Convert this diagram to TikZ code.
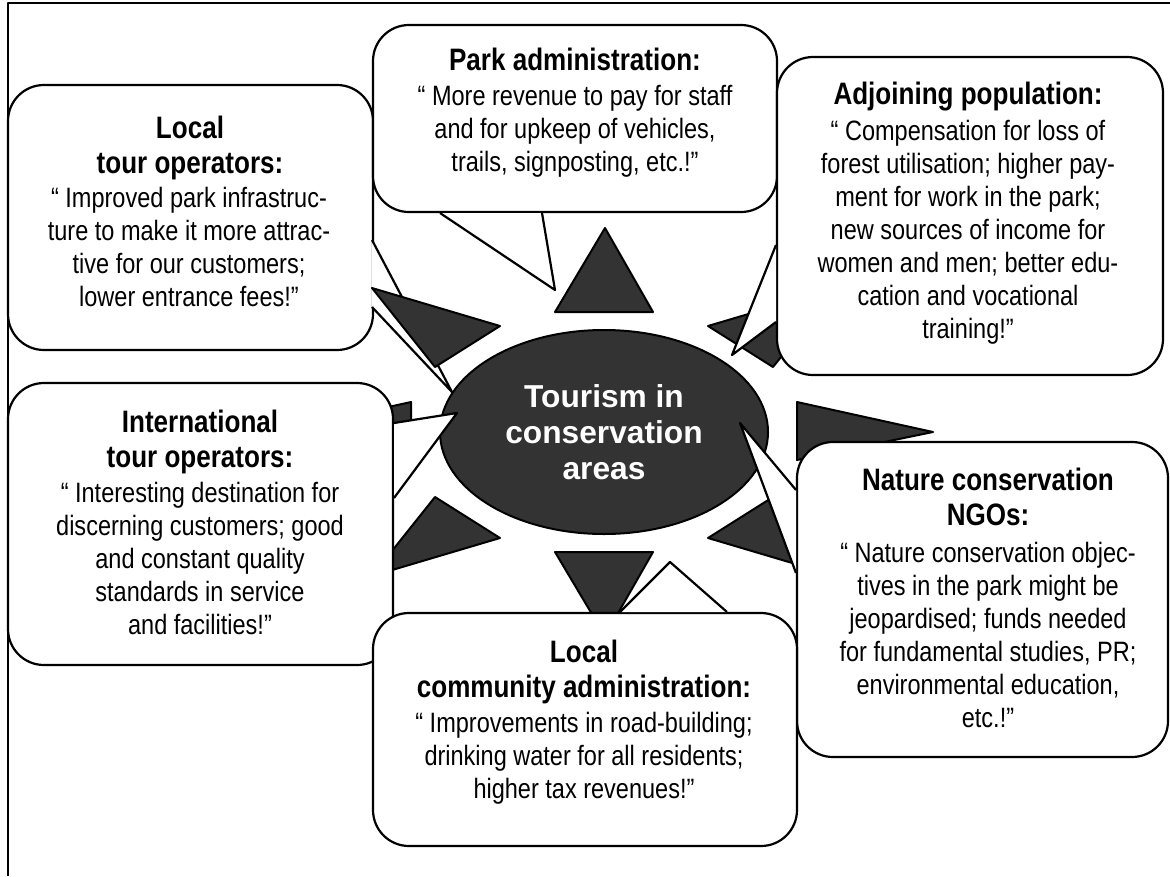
\documentclass[tikz,border=0pt]{standalone}
\usepackage{fontspec}
\setmainfont{Liberation Sans}[FakeStretch=0.84]
\newfontfamily\hubfont{Liberation Sans}
\usepackage{xcolor}
\usetikzlibrary{positioning,shapes.geometric}
\definecolor{raygray}{RGB}{51,51,51}

\begin{document}
\begin{tikzpicture}[x=1pt, y=-1pt, line join=round]
    \tikzstyle{bubble} = [draw, line width=2.2pt, fill=white, rounded corners=36pt]
    \tikzstyle{bubbletail} = [draw, line width=2.2pt, fill=white]
    \tikzstyle{sunray} = [draw, line width=2pt, fill=raygray]
    \tikzstyle{hub} = [draw, ellipse, line width=2pt, fill=raygray, minimum width=328pt, minimum height=204pt, inner sep=0pt, text=white, align=center, font=\hubfont\bfseries\fontsize{31.7}{36}\selectfont]
    \tikzstyle{headline} = [align=center, inner sep=0pt, anchor=base, font=\bfseries\fontsize{31}{35}\selectfont]
    \tikzstyle{saying} = [align=center, inner sep=0pt, anchor=base, font=\fontsize{28}{33}\selectfont]

    \useasboundingbox (0,0) rectangle (1170,876);
    \draw [line width=2pt] (8,876) -- (8,3) -- (1170,3);

    % centre and rays
    \node [hub] (hub) at (604,432) {Tourism in\\conservation\\areas};
    \draw [sunray] (605,228) -- (653,312) -- (555,312) -- cycle;
    \draw [sunray] (836,288) -- (708,326) -- (773,367) -- cycle;
    \draw [sunray] (933,432) -- (797,460) -- (797,402) -- cycle;
    \draw [sunray] (836,576) -- (773,497) -- (708,538) -- cycle;
    \draw [sunray] (605,636) -- (555,552) -- (653,552) -- cycle;
    \draw [sunray] (372,576) -- (435,497) -- (500,538) -- cycle;
    \draw [sunray] (275,432) -- (411,402) -- (411,460) -- cycle;

    % callouts
    \draw [bubble] (8,85) rectangle (373,350);
    \draw [bubbletail] (372,240) -- (452,392) -- (372,307);
    \draw [bubble] (373,25) rectangle (777,212);
    \draw [bubbletail] (440,213) -- (555,290) -- (542,213);
    \draw [bubble] (777,57) rectangle (1163,375);
    \draw [bubbletail] (776,245) -- (732,355) -- (776,322);
    \draw [bubble] (8,383) rectangle (393,665);
    \draw [bubbletail] (394,423) -- (457,413) -- (394,498);
    \draw [bubble] (797,442) rectangle (1168,757);
    \draw [bubbletail] (796,490) -- (740,423) -- (796,573);
    \draw [bubble] (373,613) rectangle (797,846);
    \draw [bubbletail] (620,612) -- (670,562) -- (727,612);
    \draw [sunray] (372,288) -- (500,326) -- (435,367) -- cycle;

    % texts (placed at the baseline of their last line)
    \node [headline] (localhead) at (190,173) {Local\\tour operators:};
    \node [saying] (localtext) at (189,306) {“ Improved park infrastruc-\\ture to make it more attrac-\\tive for our customers;\\lower entrance fees!”};
    \node [headline] (parkhead) at (575,70) {Park administration:};
    \node [saying] (parktext) at (575,171) {“ More revenue to pay for staff\\and for upkeep of vehicles,\\trails, signposting, etc.!”};
    \node [headline] (popuhead) at (968,104) {Adjoining population:};
    \node [saying] (poputext) at (968,338) {“ Compensation for loss of\\forest utilisation; higher pay-\\ment for work in the park;\\new sources of income for\\women and men; better edu-\\cation and vocational\\training!”};
    \node [headline] (intlhead) at (200,467) {International\\tour operators:};
    \node [saying] (intltext) at (200,634) {“ Interesting destination for\\discerning customers; good\\and constant quality\\standards in service\\and facilities!”};
    \node [headline] (ngohead) at (988,525) {Nature conservation\\NGOs:};
    \node [saying] (ngotext) at (988,727) {“ Nature conservation objec-\\tives in the park might be\\jeopardised; funds needed\\for fundamental studies, PR;\\environmental education,\\etc.!”};
    \node [headline] (commhead) at (584,697) {Local\\community administration:};
    \node [saying] (commtext) at (584,798) {“ Improvements in road-building;\\drinking water for all residents;\\higher tax revenues!”};
\end{tikzpicture}
\end{document}
